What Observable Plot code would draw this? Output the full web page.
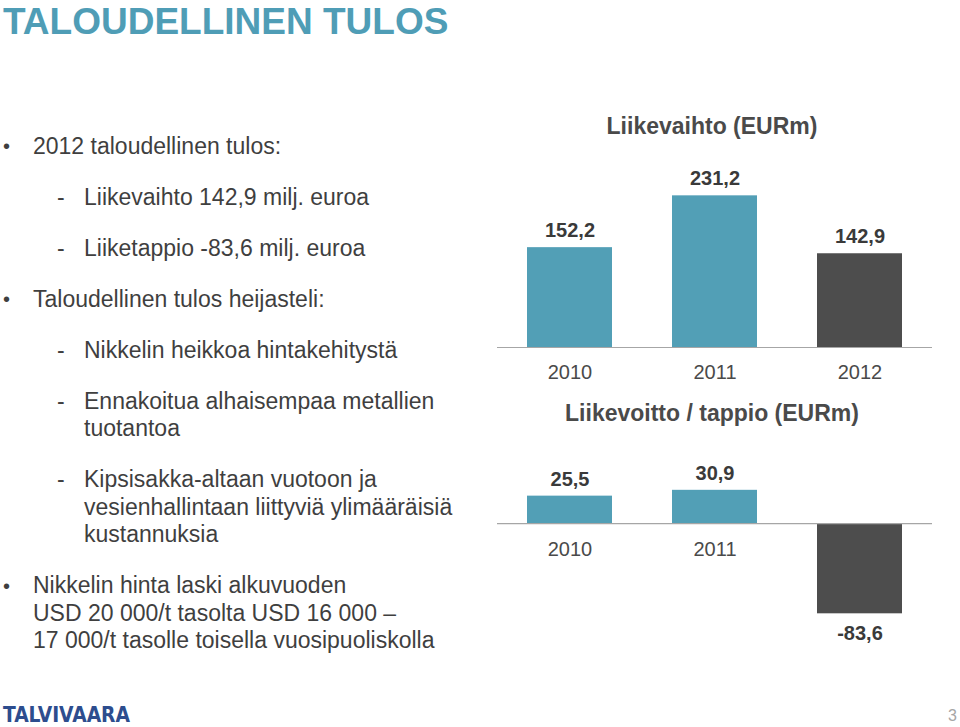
<!DOCTYPE html>
<html>
<head>
<meta charset="utf-8">
<script src="https://cdn.jsdelivr.net/npm/d3@7"></script>
<script src="https://cdn.jsdelivr.net/npm/@observablehq/plot@0.6"></script>
<style>
  html, body { margin: 0; padding: 0; background: #fff; }
  #page { position: relative; width: 960px; height: 727px; overflow: hidden; font-family: "Liberation Sans", Arial, Helvetica, sans-serif; }
  .ln { position: absolute; white-space: nowrap; line-height: 1; }
  .chart { position: absolute; }
</style>
</head>
<body>
<div id="page"></div>
<script>
// ---------- data ----------
const years = ["2010", "2011", "2012"];
const revenue = [152.2, 231.2, 142.9];          // Liikevaihto (EURm)
const operatingResult = [25.5, 30.9, -83.6];    // Liikevoitto / tappio (EURm)
const highlightYear = "2012";

const pageTitle = "TALOUDELLINEN TULOS";
const revenueTitle = "Liikevaihto (EURm)";
const resultTitle = "Liikevoitto / tappio (EURm)";
const bulletLevels = [1, 2, 2, 1, 2, 2, 2, 1];
const bulletTexts = [
  ["2012 taloudellinen tulos:"],
  ["Liikevaihto 142,9 milj. euroa"],
  ["Liiketappio -83,6 milj. euroa"],
  ["Taloudellinen tulos heijasteli:"],
  ["Nikkelin heikkoa hintakehitystä"],
  ["Ennakoitua alhaisempaa metallien", "tuotantoa"],
  ["Kipsisakka-altaan vuotoon ja", "vesienhallintaan liittyviä ylimääräisiä", "kustannuksia"],
  ["Nikkelin hinta laski alkuvuoden", "USD 20 000/t tasolta USD 16 000 –", "17 000/t tasolle toisella vuosipuoliskolla"]
];
const logoText = "TALVIVAARA";
const pageNumber = "3";

// ---------- styles ----------
const TEAL = "#529fb6";
const DARK = "#4d4d4d";
const TEXT = "#3f3f3f";
const AXIS = "#a6a6a6";
const FONT = "'Liberation Sans', Arial, Helvetica, sans-serif";

const page = document.getElementById("page");
function line(text, x, baseline, size, opts = {}) {
  const d = document.createElement("div");
  d.className = "ln";
  d.textContent = text;
  d.style.fontSize = size + "px";
  d.style.top = (baseline - 0.8465 * size) + "px";
  if (opts.center != null) {
    d.style.left = (opts.center - 300) + "px";
    d.style.width = "600px";
    d.style.textAlign = "center";
  } else {
    d.style.left = x + "px";
  }
  d.style.color = opts.color || TEXT;
  if (opts.bold) d.style.fontWeight = "bold";
  page.appendChild(d);
  return d;
}

// title
line(pageTitle, 3, 34, 37, {bold: true, color: "#4f9db6"});

// bullets
let baseline = 154;
bulletTexts.forEach((lines, i) => {
  const lvl = bulletLevels[i];
  if (lvl === 1) line("•", 3, baseline - 1, 20, {color: TEXT});
  else line("-", 57, baseline, 23);
  lines.forEach((t, j) => {
    line(t, lvl === 1 ? 33 : 84, baseline + j * 27.5, 23);
  });
  baseline += (lines.length - 1) * 27.5 + 51;
});

// chart titles
line(revenueTitle, 0, 134, 23, {bold: true, center: 712, color: "#4a4a4a"});
line(resultTitle, 0, 421.5, 23, {bold: true, center: 712, color: "#4a4a4a"});

// ---------- charts ----------
const fmt = v => v.toFixed(1).replace(".", ",");
const rev = years.map((year, i) => ({year, value: revenue[i]}));
const res = years.map((year, i) => ({year, value: operatingResult[i]}));
const fillOf = d => d.year === highlightYear ? DARK : TEAL;

function place(svg, left, top) {
  const wrap = document.createElement("div");
  wrap.className = "chart";
  wrap.style.left = left + "px";
  wrap.style.top = top + "px";
  wrap.appendChild(svg);
  page.appendChild(wrap);
}

const xOpts = {domain: years, paddingInner: 0.414, paddingOuter: 0.207, axis: null};

const chart1 = Plot.plot({
  width: 470, height: 240,
  marginLeft: 17, marginRight: 18, marginTop: 33, marginBottom: 43,
  style: {fontFamily: FONT, background: "transparent", overflow: "visible"},
  x: xOpts,
  y: {domain: [0, 250], axis: null},
  color: {type: "identity"},
  marks: [
    Plot.barY(rev, {x: "year", y: "value", fill: fillOf}),
    Plot.ruleY([0], {stroke: AXIS, strokeWidth: 1.2}),
    Plot.text(rev, {x: "year", y: "value", text: d => fmt(d.value), dy: -11, lineAnchor: "bottom", fontSize: 20, fontWeight: "bold", fill: "#3a3a3a"}),
    Plot.text(rev, {x: "year", y: () => 0, text: "year", dy: 31, lineAnchor: "bottom", fontSize: 20, fill: "#4a4a4a"})
  ]
});
place(chart1, 480, 150);

const chart2 = Plot.plot({
  width: 470, height: 220,
  marginLeft: 17, marginRight: 18, marginTop: 40, marginBottom: 29,
  style: {fontFamily: FONT, background: "transparent", overflow: "visible"},
  x: xOpts,
  y: {domain: [-100, 40], axis: null},
  color: {type: "identity"},
  marks: [
    Plot.barY(res, {x: "year", y: "value", fill: fillOf}),
    Plot.ruleY([0], {stroke: AXIS, strokeWidth: 1.2}),
    Plot.text(res.filter(d => d.value >= 0), {x: "year", y: "value", text: d => fmt(d.value), dy: -10, lineAnchor: "bottom", fontSize: 20, fontWeight: "bold", fill: "#3a3a3a"}),
    Plot.text(res.filter(d => d.value < 0), {x: "year", y: "value", text: d => fmt(d.value), dy: 26, lineAnchor: "bottom", fontSize: 20, fontWeight: "bold", fill: "#3a3a3a"}),
    Plot.text(res.filter(d => d.value >= 0), {x: "year", y: () => 0, text: "year", dy: 32, lineAnchor: "bottom", fontSize: 20, fill: "#4a4a4a"})
  ]
});
place(chart2, 480, 440);

// ---------- footer ----------
const ns = "http://www.w3.org/2000/svg";
const logo = document.createElementNS(ns, "svg");
logo.setAttribute("width", "140");
logo.setAttribute("height", "27");
logo.style.position = "absolute";
logo.style.left = "0px";
logo.style.top = "700px";
const lt = document.createElementNS(ns, "text");
lt.setAttribute("x", "3");
lt.setAttribute("y", "22");
lt.setAttribute("textLength", "127");
lt.setAttribute("lengthAdjust", "spacingAndGlyphs");
lt.setAttribute("font-family", "'Liberation Sans Narrow', 'DejaVu Sans Condensed', " + FONT);
lt.setAttribute("font-weight", "bold");
lt.setAttribute("font-size", "22");
lt.setAttribute("fill", "#2d4d8e");
lt.textContent = logoText;
logo.appendChild(lt);
page.appendChild(logo);

line(pageNumber, 948, 722, 16, {color: "#a6a6a6"});
</script>
</body>
</html>
